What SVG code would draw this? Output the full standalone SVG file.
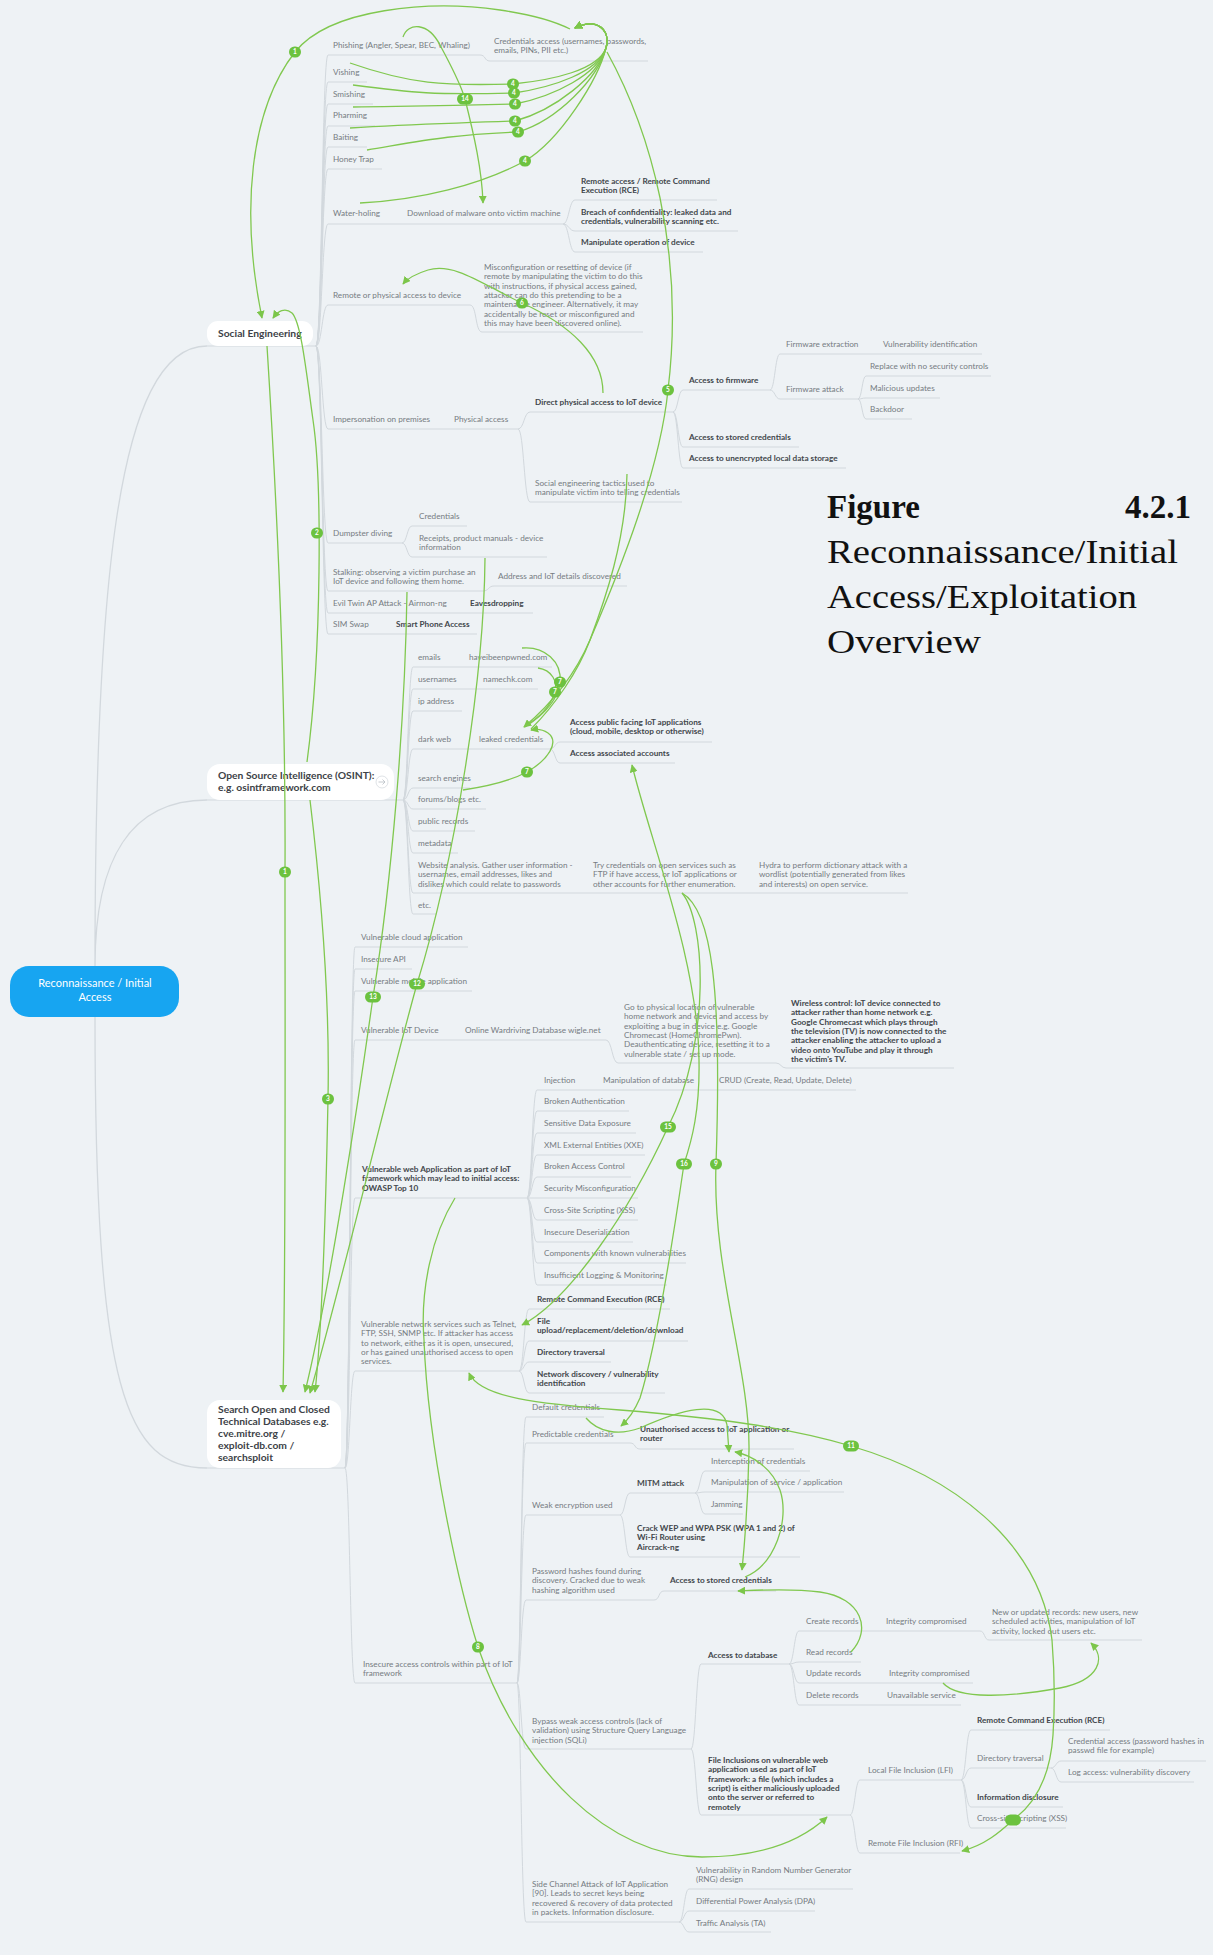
<svg xmlns="http://www.w3.org/2000/svg" width="1213" height="1955" viewBox="0 0 1213 1955">
<style>
.t{font-family:Lato,"Open Sans",sans-serif;font-size:8.2px;fill:#767c82}
.b{font-weight:700;fill:#42474c}
.br{font-family:Lato,"Open Sans",sans-serif;font-size:10.3px;font-weight:700;fill:#3d4247}
.rt{font-family:Lato,"Open Sans",sans-serif;font-size:11px;fill:#fff;text-anchor:middle}
.ln{fill:none;stroke:#d2d8dd;stroke-width:1}
.rl{fill:none;stroke:#d2d8dd;stroke-width:1.3}
.g{fill:none;stroke:#80c84f;stroke-width:1.3}
.ga{marker-end:url(#ah)}
.gs{marker-start:url(#ahs)}
.bd rect{fill:#6cc23f}
.bd text{font-family:Lato,sans-serif;font-size:6.5px;font-weight:700;fill:#fff;text-anchor:middle}
.ti{font-family:"Liberation Serif",serif;font-size:33px;fill:#111}
.box{fill:#fff}
</style>
<defs>
<marker id="ah" viewBox="0 0 10 10" refX="9" refY="5" markerWidth="8" markerHeight="8" markerUnits="userSpaceOnUse" orient="auto"><path d="M0 0L10 5L0 10z" fill="#7cc64a"/></marker>
<marker id="ahs" viewBox="0 0 10 10" refX="9" refY="5" markerWidth="8" markerHeight="8" markerUnits="userSpaceOnUse" orient="auto-start-reverse"><path d="M0 0L10 5L0 10z" fill="#7cc64a"/></marker>
</defs>
<rect width="1213" height="1955" fill="#eef2f5"/>

<!-- tree branches (grey) -->
<g id="branches">
<path class="rl" d="M95 966C95 600 115 346 207 346M95 966C95 860 130 800 207 800M95 1016C95 1390 125 1468 207 1468"/>
<path class="ln" d="M207 346H316M207 800H403M207 1468H345"/>
<!-- social engineering -->
<path class="ln" d="M316 346C322 346 322 55 328 55H480M316 346C322 346 322 82 328 82H367M316 346C322 346 322 104 328 104H373M316 346C322 346 322 126 328 126H375M316 346C322 346 322 147 328 147H367M316 346C322 346 322 169 328 169H382M316 346C322 346 322 224 328 224H563M316 346C322 346 322 305 328 305H470M316 346C322 346 322 429 328 429H518M316 346C322 346 322 543 328 543H402M316 346C322 346 322 591 328 591H483M316 346C322 346 322 613 328 613H533M316 346C322 346 322 634 328 634H477"/>
<path class="ln" d="M480 55C486 55 484 61 490 61H648M563 224C569 224 569 200 575 200H717M563 224C569 224 569 231 575 231H738M563 224C569 224 569 252 575 252H703M470 305C477 305 475 332 482 332H643"/>
<path class="ln" d="M518 429C524 429 524 412 530 412H673M518 429C524 429 524 502 530 502H682M673 412C678 412 678 390 683 390H770M673 412C678 412 678 447 683 447H799M673 412C678 412 678 468 683 468H846M770 390C775 390 775 354 780 354H982M770 390C775 390 775 399 780 399H858M858 399C862 399 862 376 866 376H991M858 399C862 399 862 398 866 398H940M858 399C862 399 862 419 866 419H912"/>
<path class="ln" d="M402 543C407 543 407 526 412 526H467M402 543C407 543 407 557 412 557H547M483 591C489 591 488 586 494 586H627"/>
<!-- osint -->
<path class="ln" d="M403 800C408 800 408 667 413 667H552M403 800C408 800 408 689 413 689H538M403 800C408 800 408 711 413 711H462M403 800C408 800 408 749 413 749H550M403 800C408 800 408 788 413 788H470M403 800C408 800 408 809 413 809H486M403 800C408 800 408 831 413 831H475M403 800C408 800 408 853 413 853H458M403 800C408 800 408 893 413 893H908M403 800C408 800 408 914 413 914H437"/>
<path class="ln" d="M550 749C555 749 555 742 560 742H712M550 749C555 749 555 763 560 763H675"/>
<!-- technical databases -->
<path class="ln" d="M345 1468C350 1468 350 947 355 947H468M345 1468C350 1468 350 969 355 969H412M345 1468C350 1468 350 991 355 991H472M345 1468C350 1468 350 1040 355 1040H606M345 1468C350 1468 350 1198 355 1198H527M345 1468C350 1468 350 1371 355 1371H519M345 1468C350 1468 350 1683 355 1683H517"/>
<path class="ln" d="M606 1040C612 1040 612 1063 618 1063H776M776 1063C781 1063 781 1068 786 1068H954"/>
<path class="ln" d="M527 1198C532 1198 532 1090 537 1090H856M527 1198C532 1198 532 1111 537 1111H629M527 1198C532 1198 532 1133 537 1133H636M527 1198C532 1198 532 1155 537 1155H645M527 1198C532 1198 532 1177 537 1177H631M527 1198C532 1198 532 1198 537 1198H638M527 1198C532 1198 532 1220 537 1220H638M527 1198C532 1198 532 1242 537 1242H633M527 1198C532 1198 532 1263 537 1263H686M527 1198C532 1198 532 1285 537 1285H667"/>
<path class="ln" d="M519 1371C524 1371 524 1309 529 1309H670M519 1371C524 1371 524 1341 529 1341H688M519 1371C524 1371 524 1362 529 1362H611M519 1371C524 1371 524 1393 529 1393H665"/>
<path class="ln" d="M517 1683C521 1683 521 1417 526 1417H604M517 1683C521 1683 521 1443 526 1443H630M517 1683C521 1683 521 1515 526 1515H620M517 1683C521 1683 521 1600 526 1600H654M517 1683C521 1683 521 1749 526 1749H691M517 1683C521 1683 521 1922 526 1922H679"/>
<path class="ln" d="M630 1443C636 1443 634 1449 640 1449H794M620 1515C625 1515 625 1493 630 1493H695M620 1515C625 1515 625 1557 630 1557H800M695 1493C700 1493 700 1471 705 1471H810M695 1493C700 1493 700 1492 705 1492H844M695 1493C700 1493 700 1514 705 1514H743M654 1600C660 1600 658 1591 664 1591H776"/>
<path class="ln" d="M691 1749C696 1749 696 1664 701 1664H789M691 1749C696 1749 696 1815 701 1815H850M789 1664C794 1664 794 1631 799 1631H980M789 1664C794 1664 794 1662 799 1662H861M789 1664C794 1664 794 1683 799 1683H973M789 1664C794 1664 794 1705 799 1705H961M980 1631C985 1631 984 1640 989 1640H1142"/>
<path class="ln" d="M850 1815C855 1815 855 1780 860 1780H961M850 1815C855 1815 855 1853 860 1853H960M961 1780C966 1780 966 1730 971 1730H1110M961 1780C966 1780 966 1768 971 1768H1051M961 1780C966 1780 966 1807 971 1807H1063M961 1780C966 1780 966 1828 971 1828H1066M1051 1768C1056 1768 1056 1761 1061 1761H1206M1051 1768C1056 1768 1056 1782 1061 1782H1194"/>
<path class="ln" d="M679 1922C684 1922 684 1889 689 1889H853M679 1922C684 1922 684 1911 689 1911H815M679 1922C684 1922 684 1932 689 1932H771"/>
</g>

<!-- root and main branches -->
<g id="root"><rect x="10" y="966" width="169" height="51" rx="19" fill="#17a5f1"/><text class="rt" x="95" y="987">Reconnaissance / Initial</text><text class="rt" x="95" y="1001">Access</text></g>
<g id="social-engineering"><rect class="box" x="207" y="321" width="106" height="25" rx="11"/><text class="br" x="218" y="337">Social Engineering</text></g>
<g id="osint"><rect class="box" x="207" y="764" width="187" height="36" rx="13"/><text class="br" x="218" y="779">Open Source Intelligence (OSINT):</text><text class="br" x="218" y="791">e.g. osintframework.com</text><circle cx="382" cy="782" r="6" fill="#fff" stroke="#d6dbe0" stroke-width="0.8"/><path d="M378.5 782H385M382.5 779.5L385 782L382.5 784.5" fill="none" stroke="#b8bec4" stroke-width="0.8"/></g>
<g id="tech-databases"><rect class="box" x="207" y="1400" width="134" height="68" rx="13"/><text class="br" x="218" y="1413">Search Open and Closed</text><text class="br" x="218" y="1425">Technical Databases e.g.</text><text class="br" x="218" y="1437">cve.mitre.org /</text><text class="br" x="218" y="1449">exploit-db.com /</text><text class="br" x="218" y="1461">searchsploit</text></g>

<!-- social engineering subtree -->
<g id="phishing"><text class="t" x="333" y="48">Phishing (Angler, Spear, BEC, Whaling)</text></g>
<g id="cred-access"><text class="t" x="494" y="44">Credentials access (usernames, passwords,<tspan x="494" dy="9.3">emails, PINs, PII etc.)</tspan></text></g>
<g id="vishing"><text class="t" x="333" y="75">Vishing</text></g>
<g id="smishing"><text class="t" x="333" y="97">Smishing</text></g>
<g id="pharming"><text class="t" x="333" y="118">Pharming</text></g>
<g id="baiting"><text class="t" x="333" y="140">Baiting</text></g>
<g id="honey-trap"><text class="t" x="333" y="162">Honey Trap</text></g>
<g id="water-holing"><text class="t" x="333" y="216">Water-holing</text></g>
<g id="malware"><text class="t" x="407" y="216">Download of malware onto victim machine</text></g>
<g id="remote-rce"><text class="t b" x="581" y="184">Remote access / Remote Command<tspan x="581" dy="9.3">Execution (RCE)</tspan></text></g>
<g id="breach"><text class="t b" x="581" y="215">Breach of confidentiality: leaked data and<tspan x="581" dy="9.3">credentials, vulnerability scanning etc.</tspan></text></g>
<g id="manipulate"><text class="t b" x="581" y="245">Manipulate operation of device</text></g>
<g id="remote-physical"><text class="t" x="333" y="298">Remote or physical access to device</text></g>
<g id="misconfig"><text class="t" x="484" y="270">Misconfiguration or resetting of device (if<tspan x="484" dy="9.3">remote by manipulating the victim to do this</tspan><tspan x="484" dy="9.3">with instructions, if physical access gained,</tspan><tspan x="484" dy="9.3">attacker can do this pretending to be a</tspan><tspan x="484" dy="9.3">maintenance engineer. Alternatively, it may</tspan><tspan x="484" dy="9.3">accidentally be reset or misconfigured and</tspan><tspan x="484" dy="9.3">this may have been discovered online).</tspan></text></g>
<g id="impersonation"><text class="t" x="333" y="422">Impersonation on premises</text></g>
<g id="physical-access"><text class="t" x="454" y="422">Physical access</text></g>
<g id="direct-physical"><text class="t b" x="535" y="405">Direct physical access to IoT device</text></g>
<g id="fw-access"><text class="t b" x="689" y="383">Access to firmware</text></g>
<g id="fw-extract"><text class="t" x="786" y="347">Firmware extraction</text></g>
<g id="vuln-ident"><text class="t" x="883" y="347">Vulnerability identification</text></g>
<g id="fw-attack"><text class="t" x="786" y="392">Firmware attack</text></g>
<g id="fw-replace"><text class="t" x="870" y="369">Replace with no security controls</text></g>
<g id="fw-malicious"><text class="t" x="870" y="391">Malicious updates</text></g>
<g id="fw-backdoor"><text class="t" x="870" y="412">Backdoor</text></g>
<g id="stored-cred-1"><text class="t b" x="689" y="440">Access to stored credentials</text></g>
<g id="unencrypted"><text class="t b" x="689" y="461">Access to unencrypted local data storage</text></g>
<g id="se-tactics"><text class="t" x="535" y="486">Social engineering tactics used to<tspan x="535" dy="9.3">manipulate victim into telling credentials</tspan></text></g>
<g id="dumpster"><text class="t" x="333" y="536">Dumpster diving</text></g>
<g id="dumpster-cred"><text class="t" x="419" y="519">Credentials</text></g>
<g id="receipts"><text class="t" x="419" y="541">Receipts, product manuals - device<tspan x="419" dy="9.3">information</tspan></text></g>
<g id="stalking"><text class="t" x="333" y="575">Stalking: observing a victim purchase an<tspan x="333" dy="9.3">IoT device and following them home.</tspan></text></g>
<g id="address"><text class="t" x="498" y="579">Address and IoT details discovered</text></g>
<g id="evil-twin"><text class="t" x="333" y="606">Evil Twin AP Attack - Airmon-ng</text></g>
<g id="eavesdrop"><text class="t b" x="470" y="606">Eavesdropping</text></g>
<g id="sim-swap"><text class="t" x="333" y="627">SIM Swap</text></g>
<g id="smartphone"><text class="t b" x="396" y="627">Smart Phone Access</text></g>

<!-- osint subtree -->
<g id="emails"><text class="t" x="418" y="660">emails</text></g>
<g id="hibp"><text class="t" x="469" y="660">haveibeenpwned.com</text></g>
<g id="usernames"><text class="t" x="418" y="682">usernames</text></g>
<g id="namechk"><text class="t" x="483" y="682">namechk.com</text></g>
<g id="ip"><text class="t" x="418" y="704">ip address</text></g>
<g id="darkweb"><text class="t" x="418" y="742">dark web</text></g>
<g id="leaked"><text class="t" x="479" y="742">leaked credentials</text></g>
<g id="public-apps"><text class="t b" x="570" y="725">Access public facing IoT applications<tspan x="570" dy="9.3">(cloud, mobile, desktop or otherwise)</tspan></text></g>
<g id="assoc-accounts"><text class="t b" x="570" y="756">Access associated accounts</text></g>
<g id="search-engines"><text class="t" x="418" y="781">search engines</text></g>
<g id="forums"><text class="t" x="418" y="802">forums/blogs etc.</text></g>
<g id="public-records"><text class="t" x="418" y="824">public records</text></g>
<g id="metadata"><text class="t" x="418" y="846">metadata</text></g>
<g id="website"><text class="t" x="418" y="868">Website analysis. Gather user information -<tspan x="418" dy="9.3">usernames, email addresses, likes and</tspan><tspan x="418" dy="9.3">dislikes which could relate to passwords</tspan></text></g>
<g id="try-cred"><text class="t" x="593" y="868">Try credentials on open services such as<tspan x="593" dy="9.3">FTP if have access, or IoT applications or</tspan><tspan x="593" dy="9.3">other accounts for further enumeration.</tspan></text></g>
<g id="hydra"><text class="t" x="759" y="868">Hydra to perform dictionary attack with a<tspan x="759" dy="9.3">wordlist (potentially generated from likes</tspan><tspan x="759" dy="9.3">and interests) on open service.</tspan></text></g>
<g id="etc"><text class="t" x="418" y="908">etc.</text></g>

<!-- technical databases subtree -->
<g id="cloud"><text class="t" x="361" y="940">Vulnerable cloud application</text></g>
<g id="api"><text class="t" x="361" y="962">Insecure API</text></g>
<g id="mobile"><text class="t" x="361" y="984">Vulnerable mobile application</text></g>
<g id="iot-device"><text class="t" x="361" y="1033">Vulnerable IoT Device</text></g>
<g id="wigle"><text class="t" x="465" y="1033">Online Wardriving Database wigle.net</text></g>
<g id="physical-loc"><text class="t" x="624" y="1010">Go to physical location of vulnerable<tspan x="624" dy="9.3">home network and device and access by</tspan><tspan x="624" dy="9.3">exploiting a bug in device e.g. Google</tspan><tspan x="624" dy="9.3">Chromecast (HomeChromePwn).</tspan><tspan x="624" dy="9.3">Deauthenticating device, resetting it to a</tspan><tspan x="624" dy="9.3">vulnerable state / set up mode.</tspan></text></g>
<g id="wireless"><text class="t b" x="791" y="1006">Wireless control: IoT device connected to<tspan x="791" dy="9.3">attacker rather than home network e.g.</tspan><tspan x="791" dy="9.3">Google Chromecast which plays through</tspan><tspan x="791" dy="9.3">the television (TV) is now connected to the</tspan><tspan x="791" dy="9.3">attacker enabling the attacker to upload a</tspan><tspan x="791" dy="9.3">video onto YouTube and play it through</tspan><tspan x="791" dy="9.3">the victim's TV.</tspan></text></g>
<g id="owasp"><text class="t b" x="362" y="1172">Vulnerable web Application as part of IoT<tspan x="362" dy="9.3">framework which may lead to initial access:</tspan><tspan x="362" dy="9.3">OWASP Top 10</tspan></text></g>
<g id="injection"><text class="t" x="544" y="1083">Injection</text></g>
<g id="manip-db"><text class="t" x="603" y="1083">Manipulation of database</text></g>
<g id="crud"><text class="t" x="719" y="1083">CRUD (Create, Read, Update, Delete)</text></g>
<g id="broken-auth"><text class="t" x="544" y="1104">Broken Authentication</text></g>
<g id="sensitive"><text class="t" x="544" y="1126">Sensitive Data Exposure</text></g>
<g id="xxe"><text class="t" x="544" y="1148">XML External Entities (XXE)</text></g>
<g id="broken-access"><text class="t" x="544" y="1169">Broken Access Control</text></g>
<g id="misconf"><text class="t" x="544" y="1191">Security Misconfiguration</text></g>
<g id="xss-owasp"><text class="t" x="544" y="1213">Cross-Site Scripting (XSS)</text></g>
<g id="deser"><text class="t" x="544" y="1235">Insecure Deserialization</text></g>
<g id="components"><text class="t" x="544" y="1256">Components with known vulnerabilities</text></g>
<g id="logging"><text class="t" x="544" y="1278">Insufficient Logging &amp; Monitoring</text></g>
<g id="net-services"><text class="t" x="361" y="1327">Vulnerable network services such as Telnet,<tspan x="361" dy="9.3">FTP, SSH, SNMP etc. If attacker has access</tspan><tspan x="361" dy="9.3">to network, either as it is open, unsecured,</tspan><tspan x="361" dy="9.3">or has gained unauthorised access to open</tspan><tspan x="361" dy="9.3">services.</tspan></text></g>
<g id="net-rce"><text class="t b" x="537" y="1302">Remote Command Execution (RCE)</text></g>
<g id="file-upload"><text class="t b" x="537" y="1324">File<tspan x="537" dy="9.3">upload/replacement/deletion/download</tspan></text></g>
<g id="net-dir"><text class="t b" x="537" y="1355">Directory traversal</text></g>
<g id="net-disc"><text class="t b" x="537" y="1377">Network discovery / vulnerability<tspan x="537" dy="9.3">identification</tspan></text></g>
<g id="default-cred"><text class="t" x="532" y="1410">Default credentials</text></g>
<g id="predictable"><text class="t" x="532" y="1437">Predictable credentials</text></g>
<g id="unauth"><text class="t b" x="640" y="1432">Unauthorised access to IoT application or<tspan x="640" dy="9.3">router</tspan></text></g>
<g id="weak-enc"><text class="t" x="532" y="1508">Weak encryption used</text></g>
<g id="mitm"><text class="t b" x="637" y="1486">MITM attack</text></g>
<g id="intercept"><text class="t" x="711" y="1464">Interception of credentials</text></g>
<g id="manip-svc"><text class="t" x="711" y="1485">Manipulation of service / application</text></g>
<g id="jamming"><text class="t" x="711" y="1507">Jamming</text></g>
<g id="crack"><text class="t b" x="637" y="1531">Crack WEP and WPA PSK (WPA 1 and 2) of<tspan x="637" dy="9.3">Wi-Fi Router using</tspan><tspan x="637" dy="9.3">Aircrack-ng</tspan></text></g>
<g id="hashes"><text class="t" x="532" y="1574">Password hashes found during<tspan x="532" dy="9.3">discovery. Cracked due to weak</tspan><tspan x="532" dy="9.3">hashing algorithm used</tspan></text></g>
<g id="stored-cred-2"><text class="t b" x="670" y="1583">Access to stored credentials</text></g>
<g id="insecure-ac"><text class="t" x="363" y="1667">Insecure access controls within part of IoT<tspan x="363" dy="9.3">framework</tspan></text></g>
<g id="db-access"><text class="t b" x="708" y="1658">Access to database</text></g>
<g id="create"><text class="t" x="806" y="1624">Create records</text></g>
<g id="integrity-1"><text class="t" x="886" y="1624">Integrity compromised</text></g>
<g id="new-records"><text class="t" x="992" y="1615">New or updated records: new users, new<tspan x="992" dy="9.3">scheduled activities, manipulation of IoT</tspan><tspan x="992" dy="9.3">activity, locked out users etc.</tspan></text></g>
<g id="read"><text class="t" x="806" y="1655">Read records</text></g>
<g id="update"><text class="t" x="806" y="1676">Update records</text></g>
<g id="integrity-2"><text class="t" x="889" y="1676">Integrity compromised</text></g>
<g id="delete"><text class="t" x="806" y="1698">Delete records</text></g>
<g id="unavailable"><text class="t" x="887" y="1698">Unavailable service</text></g>
<g id="sqli"><text class="t" x="532" y="1724">Bypass weak access controls (lack of<tspan x="532" dy="9.3">validation) using Structure Query Language</tspan><tspan x="532" dy="9.3">injection (SQLi)</tspan></text></g>
<g id="file-incl"><text class="t b" x="708" y="1763">File Inclusions on vulnerable web<tspan x="708" dy="9.3">application used as part of IoT</tspan><tspan x="708" dy="9.3">framework: a file (which includes a</tspan><tspan x="708" dy="9.3">script) is either maliciously uploaded</tspan><tspan x="708" dy="9.3">onto the server or referred to</tspan><tspan x="708" dy="9.3">remotely</tspan></text></g>
<g id="lfi"><text class="t" x="868" y="1773">Local File Inclusion (LFI)</text></g>
<g id="lfi-rce"><text class="t b" x="977" y="1723">Remote Command Execution (RCE)</text></g>
<g id="lfi-dir"><text class="t" x="977" y="1761">Directory traversal</text></g>
<g id="passwd"><text class="t" x="1068" y="1744">Credential access (password hashes in<tspan x="1068" dy="9.3">passwd file for example)</tspan></text></g>
<g id="log-access"><text class="t" x="1068" y="1775">Log access: vulnerability discovery</text></g>
<g id="info-disc"><text class="t b" x="977" y="1800">Information disclosure</text></g>
<g id="lfi-xss"><text class="t" x="977" y="1821">Cross-site Scripting (XSS)</text></g>
<g id="rfi"><text class="t" x="868" y="1846">Remote File Inclusion (RFI)</text></g>
<g id="side-channel"><text class="t" x="532" y="1887">Side Channel Attack of IoT Application<tspan x="532" dy="9.3">[90]. Leads to secret keys being</tspan><tspan x="532" dy="9.3">recovered &amp; recovery of data protected</tspan><tspan x="532" dy="9.3">in packets. Information disclosure.</tspan></text></g>
<g id="rng"><text class="t" x="696" y="1873">Vulnerability in Random Number Generator<tspan x="696" dy="9.3">(RNG) design</tspan></text></g>
<g id="dpa"><text class="t" x="696" y="1904">Differential Power Analysis (DPA)</text></g>
<g id="ta"><text class="t" x="696" y="1926">Traffic Analysis (TA)</text></g>

<!-- caption -->
<g id="caption">
<text class="ti" x="827" y="518" font-weight="700">Figure</text>
<text class="ti" x="1191" y="518" font-weight="700" text-anchor="end">4.2.1</text>
<text class="ti" x="827" y="563" textLength="351" lengthAdjust="spacingAndGlyphs">Reconnaissance/Initial</text>
<text class="ti" x="827" y="608" textLength="310" lengthAdjust="spacingAndGlyphs">Access/Exploitation</text>
<text class="ti" x="827" y="653" textLength="154" lengthAdjust="spacingAndGlyphs">Overview</text>
</g>

<!-- cross connections (green) -->
<g id="connectors">
<path class="g gs" d="M262 318C240 210 250 110 295 52C330 8 430 0 500 10C535 15 556 22 570 29"/>
<path class="g ga" d="M403 37C408 22 428 22 440 45C452 68 460 82 465 99C474 135 482 170 483 203"/>
<path class="g ga" d="M350 63C410 84 443 86 513 84C553 80 598 70 606 48C611 30 597 17 575 28"/>
<path class="g ga" d="M353 85C413 93 434 95 514 93C554 87 598 72 606 48C611 30 597 17 575 28"/>
<path class="g ga" d="M353 107C413 106 435 106 515 104C555 96 598 74 606 48C611 30 597 17 575 28"/>
<path class="g ga" d="M350 128C410 124 435 124 515 121C555 110 598 76 606 48C611 30 597 17 575 28"/>
<path class="g ga" d="M367 150C427 140 448 135 518 132C558 120 598 78 606 48C611 30 597 17 575 28"/>
<path class="g ga" d="M360 203C420 200 480 185 525 161C560 140 598 80 606 48C611 30 597 17 575 28"/>
<path class="g ga" d="M607 52C650 130 685 250 668 390C660 470 620 570 590 640C575 675 550 705 524 727"/>
<path class="g" d="M627 474C626 540 605 600 590 640C578 672 555 705 531 729"/>
<path class="g" d="M522 648C545 646 562 662 560 682C558 702 542 716 525 727"/>
<path class="g" d="M538 668C552 670 558 682 555 692C550 708 538 718 524 727"/>
<path class="g ga" d="M463 790C490 786 512 780 527 772C548 760 560 742 548 733C542 729 536 729 531 730"/>
<path class="g ga" d="M603 393C603 355 570 325 522 303C485 286 455 262 428 270C415 274 408 278 403 284"/>
<path class="g ga" d="M307 762C322 650 322 480 313 420C306 370 301 322 292 313C285 307 278 311 273 318"/>
<path class="g ga" d="M267 346C278 520 286 700 285 872C285 1050 286 1250 283 1392"/>
<path class="g ga" d="M310 800C322 900 330 1000 328 1099C326 1200 322 1330 315 1392"/>
<path class="g ga" d="M407 592C405 720 392 880 373 997C360 1090 330 1290 305 1392"/>
<path class="g ga" d="M485 558C484 680 455 860 417 984C390 1080 340 1290 310 1393"/>
<path class="g ga" d="M682 893C705 920 712 1040 668 1127C630 1210 570 1300 522 1325"/>
<path class="g ga" d="M682 893C712 910 722 990 716 1164C712 1270 750 1370 749 1450C748 1500 745 1540 742 1570"/>
<path class="g gs ga" d="M632 765C650 840 698 960 699 1060C700 1110 692 1140 684 1164C670 1260 655 1350 640 1398C634 1412 628 1420 621 1426"/>
<path class="g ga" d="M455 1198C432 1235 420 1290 424 1340C428 1450 460 1590 478 1647C520 1770 610 1857 702 1857C760 1857 800 1842 827 1817"/>
<path class="g gs ga" d="M469 1373C480 1398 540 1404 620 1410C720 1418 790 1428 851 1446C950 1475 1040 1540 1052 1640C1056 1690 1054 1720 1053 1735C1050 1780 1032 1806 1013 1820C1000 1832 985 1845 962 1851"/>
<path class="g ga" d="M586 1418C598 1432 618 1436 640 1428C680 1410 722 1398 727 1425L729 1452"/>
<path class="g ga" d="M745 1577C775 1565 790 1520 780 1490C772 1468 752 1455 735 1452"/>
<path class="g ga" d="M851 1652C872 1630 862 1598 820 1592C790 1588 760 1590 738 1591"/>
<path class="g ga" d="M943 1683C958 1700 1010 1697 1060 1688C1100 1680 1106 1658 1091 1643"/>
<g class="bd"><rect x="289" y="46.5" width="12" height="11" rx="5.5"/><text x="295" y="54.3">1</text></g>
<g class="bd"><rect x="457" y="93.5" width="16" height="11" rx="5.5"/><text x="465" y="101.3">14</text></g>
<g class="bd"><rect x="507" y="78.5" width="12" height="11" rx="5.5"/><text x="513" y="86.3">4</text></g>
<g class="bd"><rect x="508" y="87.5" width="12" height="11" rx="5.5"/><text x="514" y="95.3">4</text></g>
<g class="bd"><rect x="509" y="98.5" width="12" height="11" rx="5.5"/><text x="515" y="106.3">4</text></g>
<g class="bd"><rect x="509" y="115.5" width="12" height="11" rx="5.5"/><text x="515" y="123.3">4</text></g>
<g class="bd"><rect x="512" y="126.5" width="12" height="11" rx="5.5"/><text x="518" y="134.3">4</text></g>
<g class="bd"><rect x="519" y="155.5" width="12" height="11" rx="5.5"/><text x="525" y="163.3">4</text></g>
<g class="bd"><rect x="516" y="297.5" width="12" height="11" rx="5.5"/><text x="522" y="305.3">6</text></g>
<g class="bd"><rect x="662" y="384.5" width="12" height="11" rx="5.5"/><text x="668" y="392.3">5</text></g>
<g class="bd"><rect x="311" y="527.5" width="12" height="11" rx="5.5"/><text x="317" y="535.3">2</text></g>
<g class="bd"><rect x="554" y="676.5" width="12" height="11" rx="5.5"/><text x="560" y="684.3">7</text></g>
<g class="bd"><rect x="549" y="686.5" width="12" height="11" rx="5.5"/><text x="555" y="694.3">7</text></g>
<g class="bd"><rect x="521" y="766.5" width="12" height="11" rx="5.5"/><text x="527" y="774.3">7</text></g>
<g class="bd"><rect x="279" y="866.5" width="12" height="11" rx="5.5"/><text x="285" y="874.3">1</text></g>
<g class="bd"><rect x="409" y="978.5" width="16" height="11" rx="5.5"/><text x="417" y="986.3">12</text></g>
<g class="bd"><rect x="365" y="991.5" width="16" height="11" rx="5.5"/><text x="373" y="999.3">13</text></g>
<g class="bd"><rect x="322" y="1093.5" width="12" height="11" rx="5.5"/><text x="328" y="1101.3">3</text></g>
<g class="bd"><rect x="660" y="1121.5" width="16" height="11" rx="5.5"/><text x="668" y="1129.3">15</text></g>
<g class="bd"><rect x="676" y="1158.5" width="16" height="11" rx="5.5"/><text x="684" y="1166.3">16</text></g>
<g class="bd"><rect x="710" y="1158.5" width="12" height="11" rx="5.5"/><text x="716" y="1166.3">9</text></g>
<g class="bd"><rect x="472" y="1641.5" width="12" height="11" rx="5.5"/><text x="478" y="1649.3">8</text></g>
<g class="bd"><rect x="843" y="1440.5" width="16" height="11" rx="5.5"/><text x="851" y="1448.3">11</text></g>
<g class="bd"><rect x="1005" y="1814.5" width="16" height="11" rx="5.5"/></g>
</g>
</svg>
